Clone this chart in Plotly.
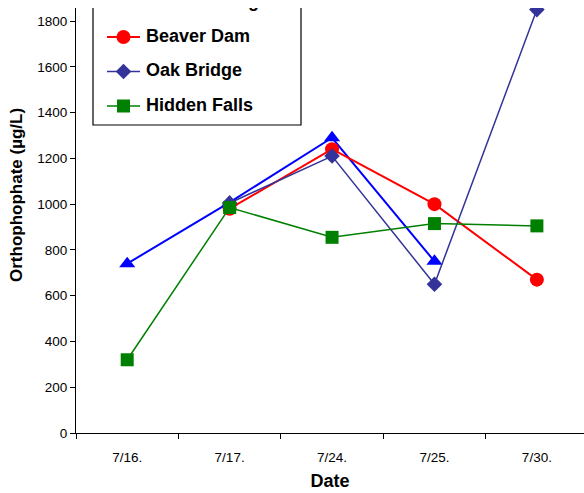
import plotly.graph_objects as go

# Sampling dates (category axis)
dates = ["7/16.", "7/17.", "7/24.", "7/25.", "7/30."]

# Orthophosphate concentrations (µg/L) per site; None = not sampled
mill_crossing = [740, 1008, 1290, 750, None]
beaver_dam = [None, 980, 1240, 1000, 670]
oak_bridge = [None, 1005, 1210, 650, 1850]
hidden_falls = [320, 985, 855, 915, 905]

site_names = ["Mill Crossing", "Beaver Dam", "Oak Bridge", "Hidden Falls"]
site_values = [mill_crossing, beaver_dam, oak_bridge, hidden_falls]
site_colors = ["#0000FF", "#FF0000", "#333399", "#008000"]
site_symbols = ["triangle-up", "circle", "diamond", "square"]
marker_sizes = [14, 14, 12, 13]
line_widths = [2, 2, 1.5, 1.5]

y_ticks = [0, 200, 400, 600, 800, 1000, 1200, 1400, 1600, 1800]

# Plot-area geometry in pixels (figure is 584 x 493)
PLOT_L, PLOT_R, PLOT_T, PLOT_B = 76, 584, 8, 433
font_family = "Liberation Sans, Arial, sans-serif"

fig = go.Figure()
for name, vals, color, symbol, msize, lw in zip(
        site_names, site_values, site_colors, site_symbols, marker_sizes, line_widths):
    fig.add_trace(go.Scatter(
        x=dates, y=vals, name=name, mode="lines+markers",
        line=dict(color=color, width=lw),
        marker=dict(symbol=symbol, size=msize, color=color, line=dict(width=0)),
        connectgaps=False, cliponaxis=True, showlegend=False,
    ))

# Legend key drawn on a pixel-unit overlay so it is clipped at the plot top
box_l, box_r, box_b, box_t = 93, 301, 125, -30
row_y = [2.5, 37, 71.5, 106]
fig.add_trace(go.Scatter(
    x=[box_l, box_r, box_r, box_l, box_l], y=[box_t, box_t, box_b, box_b, box_t],
    mode="lines", fill="toself", fillcolor="white",
    line=dict(color="black", width=1.2),
    xaxis="x2", yaxis="y2", showlegend=False, hoverinfo="skip", cliponaxis=True,
))
for name, color, symbol, msize, lw, ry in zip(
        site_names, site_colors, site_symbols, marker_sizes, line_widths, row_y):
    fig.add_trace(go.Scatter(
        x=[107, 140], y=[ry, ry], mode="lines", line=dict(color=color, width=lw),
        xaxis="x2", yaxis="y2", showlegend=False, hoverinfo="skip", cliponaxis=True,
    ))
    fig.add_trace(go.Scatter(
        x=[123.5], y=[ry], mode="markers",
        marker=dict(symbol=symbol, size=msize, color=color, line=dict(width=0)),
        xaxis="x2", yaxis="y2", showlegend=False, hoverinfo="skip", cliponaxis=True,
    ))
    fig.add_trace(go.Scatter(
        x=[146], y=[ry], mode="text", text=[name], textposition="middle right",
        textfont=dict(family=font_family, size=18, color="black", weight="bold"),
        xaxis="x2", yaxis="y2", showlegend=False, hoverinfo="skip", cliponaxis=True,
    ))

fig.update_layout(
    width=584, height=493,
    margin=dict(l=PLOT_L, r=584 - PLOT_R, t=PLOT_T, b=493 - PLOT_B),
    paper_bgcolor="white", plot_bgcolor="white",
    font=dict(family=font_family, size=13, color="black"),
    showlegend=False,
    xaxis=dict(
        type="category", range=[-0.5, 4.46],
        showline=True, linecolor="black", linewidth=1,
        ticks="outside", tickson="boundaries", ticklen=5, tickcolor="black",
        ticklabelstandoff=12,
        showgrid=False, zeroline=False,
        tickfont=dict(size=13.5),
        title=dict(text="Date", font=dict(size=18, weight="bold"), standoff=10),
    ),
    yaxis=dict(
        range=[0, 1857], tickvals=y_ticks,
        showline=True, linecolor="black", linewidth=1,
        ticks="outside", ticklen=5, tickcolor="black",
        showgrid=False, zeroline=False,
        tickfont=dict(size=13.5),
    ),
    xaxis2=dict(overlaying="x", range=[PLOT_L, PLOT_R], visible=False, fixedrange=True),
    yaxis2=dict(overlaying="y", range=[PLOT_B, PLOT_T], visible=False, fixedrange=True),
    annotations=[dict(
        text="Orthophophate (µg/L)", textangle=-90,
        xref="paper", x=0, xanchor="center", xshift=-PLOT_L + 16,
        yref="y2", y=195, yanchor="middle", showarrow=False,
        font=dict(family=font_family, size=17, color="black", weight="bold"),
    )],
)

fig.write_html("out.html")
